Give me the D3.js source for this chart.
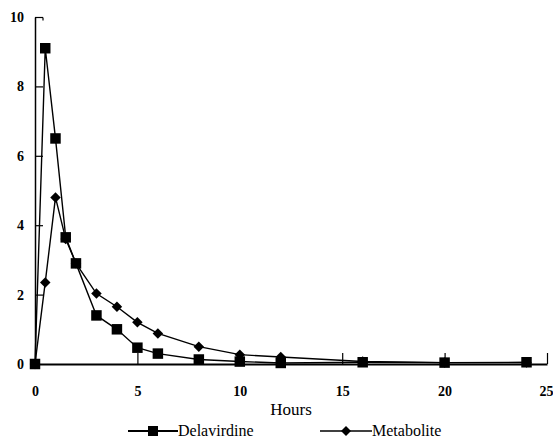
<!DOCTYPE html>
<html>
<head>
<meta charset="utf-8">
<script src="https://cdn.jsdelivr.net/npm/d3@7"></script>
<style>
  body { margin: 0; background: #fff; }
  text { font-family: "Liberation Serif", "DejaVu Serif", serif; fill: #000; }
</style>
</head>
<body>
<div id="chart-area"></div>
<script>
// data
const hours = [0, 0.5, 1, 1.5, 2, 3, 4, 5, 6, 8, 10, 12, 16, 20, 24];
const delavirdine = [0, 9.1, 6.5, 3.65, 2.9, 1.4, 1.0, 0.47, 0.3, 0.13, 0.07, 0.03, 0.05, 0.04, 0.05];
const metabolite = [0, 2.35, 4.8, 3.6, 2.9, 2.03, 1.65, 1.2, 0.88, 0.5, 0.27, 0.2, 0.07, 0.04, 0.04];
const xTicks = [0, 5, 10, 15, 20, 25];
const yTicks = [0, 2, 4, 6, 8, 10];

const width = 553, height = 443;

const svg = d3.select("#chart-area")
  .append("svg")
    .attr("width", width)
    .attr("height", height);

const x = d3.scaleLinear().domain([0, 25]).range([35, 547]);
const y = d3.scaleLinear().domain([0, 10]).range([364, 17]);

// y axis, ticks point inward
const yAxis = svg.append("g")
  .attr("transform", `translate(${x(0)}, 0)`)
  .call(d3.axisLeft(y).tickValues(yTicks).tickSizeInner(-8).tickSizeOuter(0).tickPadding(11));
yAxis.select(".domain").attr("stroke-width", 1.5);
yAxis.selectAll(".tick line").attr("stroke-width", 1.2);
yAxis.selectAll(".tick text")
  .style("font-size", "14px").style("font-weight", "bold");
yAxis.selectAll(".tick").filter(d => d === 0).select("line").remove();
// little hook on the top tick
yAxis.selectAll(".tick").filter(d => d === 10)
  .append("line")
    .attr("x1", 8).attr("x2", 8).attr("y1", 0).attr("y2", 3)
    .attr("stroke", "#000").attr("stroke-width", 1.2);

// x axis, ticks point up
const xAxis = svg.append("g")
  .attr("transform", `translate(0, ${y(0)})`)
  .call(d3.axisBottom(x).tickValues(xTicks).tickSizeInner(-11).tickSizeOuter(0).tickPadding(22));
xAxis.select(".domain").attr("stroke-width", 1.8);
xAxis.selectAll(".tick line").attr("stroke-width", 1.2);
xAxis.selectAll(".tick").filter(d => d === 0).select("line").remove();
xAxis.selectAll(".tick text")
  .style("font-size", "14px").style("font-weight", "bold");
// keep the last label inside the picture
xAxis.selectAll(".tick").filter(d => d === 25).select("text")
  .attr("text-anchor", "end").attr("x", 6);

// diamond = square turned 45 degrees
const diamond = {
  draw(context, size) {
    const r = Math.sqrt(size) / 2;
    context.moveTo(0, -r);
    context.lineTo(r, 0);
    context.lineTo(0, r);
    context.lineTo(-r, 0);
    context.closePath();
  }
};

const series = [
  {name: "Delavirdine", values: delavirdine, shape: d3.symbolSquare, size: 110},
  {name: "Metabolite", values: metabolite, shape: diamond, size: 110}
];

const line = d3.line()
  .x(d => x(d[0]))
  .y(d => y(d[1]));

series.forEach(s => {
  const pts = hours.map((h, i) => [h, s.values[i]]);
  svg.append("path")
    .datum(pts)
    .attr("fill", "none")
    .attr("stroke", "#000")
    .attr("stroke-width", 1.4)
    .attr("d", line);

  svg.selectAll(null)
    .data(pts)
    .join("path")
      .attr("transform", d => `translate(${x(d[0])}, ${y(d[1])})`)
      .attr("d", d3.symbol().type(s.shape).size(s.size))
      .attr("fill", "#000");
});

// axis title
svg.append("text")
  .attr("x", 291)
  .attr("y", 415)
  .attr("text-anchor", "middle")
  .style("font-size", "17px")
  .text("Hours");

// legend
const legend = [
  {name: "Delavirdine", shape: d3.symbolSquare, size: 100, x0: 128, x1: 178, w: 2},
  {name: "Metabolite", shape: diamond, size: 100, x0: 320, x1: 372, w: 1.4}
];
legend.forEach(l => {
  svg.append("line")
    .attr("x1", l.x0).attr("x2", l.x1)
    .attr("y1", 431).attr("y2", 431)
    .attr("stroke", "#000").attr("stroke-width", l.w);
  svg.append("path")
    .attr("transform", `translate(${(l.x0 + l.x1) / 2}, 431)`)
    .attr("d", d3.symbol().type(l.shape).size(l.size))
    .attr("fill", "#000");
  svg.append("text")
    .attr("x", l.x1)
    .attr("y", 436)
    .style("font-size", "16px")
    .text(l.name);
});
</script>
</body>
</html>
